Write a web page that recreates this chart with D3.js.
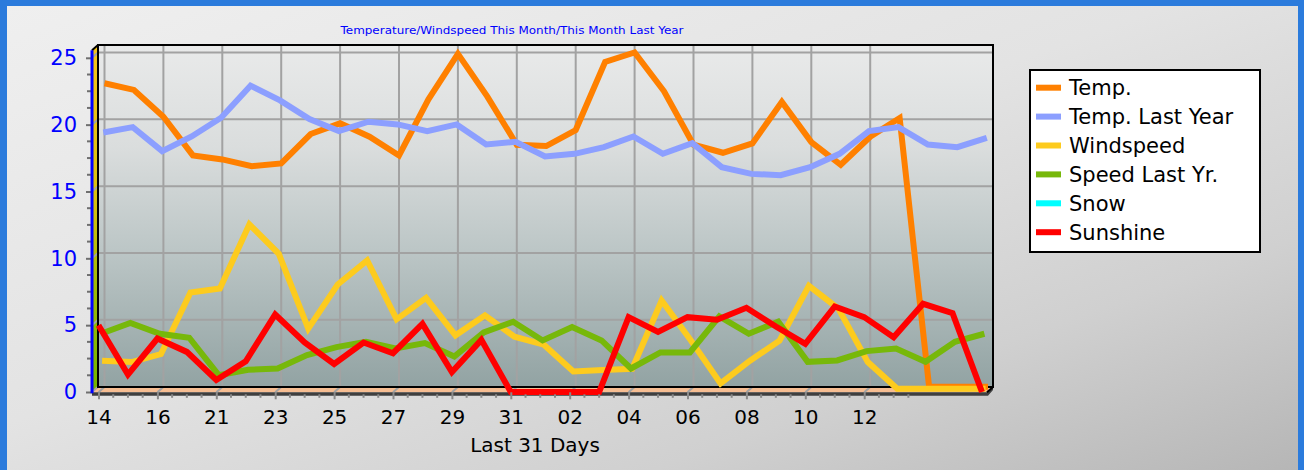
<!DOCTYPE html>
<html><head><meta charset="utf-8">
<script src="https://cdn.jsdelivr.net/npm/d3@7"></script>
<style>body{margin:0;overflow:hidden;background:#2b7bdc}</style>
</head><body><svg id="c" width="1304" height="470"></svg>
<script>
// ---------- data ----------
const days = ["14","15","16","20","21","22","23","24","25","26","27","28","29","30","31","01","02","03","04","05","06","07","08","09","10","11","12","","","",""];
const temp   = [22.7,22.2,20.2,17.3,17.0,16.5,16.7,18.9,19.7,18.7,17.3,21.5,24.9,21.7,18.1,18.0,19.2,24.3,25.0,22.1,18.1,17.5,18.2,21.3,18.3,16.6,18.7,20.1,0,0,0];
const tempLY = [19.1,19.5,17.7,18.8,20.2,22.6,21.5,20.1,19.2,19.9,19.7,19.2,19.7,18.2,18.4,17.3,17.5,18.0,18.8,17.5,18.3,16.5,16.0,15.9,16.5,17.5,19.2,19.5,18.2,18.0,18.7];
const wind   = [2.1,2.0,2.6,7.2,7.5,12.3,10.1,4.5,7.8,9.6,5.2,6.8,4.0,5.5,3.9,3.3,1.3,1.4,1.5,6.6,3.6,0.4,2.1,3.6,7.7,6.0,2.0,0,0,0,0];
const windLY = [4.2,5.0,4.2,3.9,1.1,1.5,1.6,2.6,3.2,3.6,3.1,3.5,2.5,4.3,5.1,3.7,4.7,3.7,1.6,2.8,2.8,5.5,4.2,5.1,2.1,2.2,2.9,3.1,2.1,3.6,4.2];
const snow   = [];
const sun    = [5.0,1.3,4.0,3.0,0.9,2.3,5.8,3.7,2.1,3.7,2.9,5.1,1.5,3.9,0,0,0,0,5.6,4.5,5.6,5.4,6.3,4.9,3.6,6.4,5.6,4.1,6.6,5.9,0];
const yTicks = [0,5,10,15,20,25];
const seriesNames  = ["Temp.","Temp. Last Year","Windspeed","Speed Last Yr.","Snow","Sunshine"];
const seriesColors = ["#ff8000","#8c9fff","#fdcb1e","#77b80a","#00ffff","#ff0000"];
const seriesData   = [temp,tempLY,wind,windLY,snow,sun];
const titleText = "Temperature/Windspeed This Month/This Month Last Year";
const xTitle = "Last 31 Days";

// ---------- layout ----------
const svg = d3.select("#c");
const W = 1304, H = 470;
const DX = -6, DY = 5.3;            // 3D depth offset (back -> front)
const BL = 98, BR = 993, BT = 45, BB = 387;   // back wall

const x = d3.scalePoint().domain(d3.range(days.length)).range([104.5, 988]);
const y = d3.scaleLinear().domain([0, 25]).range([386.7, 52.5]);
const xF = d3.scalePoint().domain(x.domain()).range(x.range().map(v => v + DX));
const yF = d3.scaleLinear().domain(y.domain()).range(y.range().map(v => v + DY));

const defs = svg.append("defs");
const bg = defs.append("linearGradient").attr("id","bg").attr("x1",0).attr("y1",0).attr("x2",1).attr("y2",1);
[[0,"#efefef"],[0.45,"#e3e3e3"],[0.75,"#d0d0d0"],[1,"#b6b6b6"]].forEach(s=>bg.append("stop").attr("offset",s[0]).attr("stop-color",s[1]));
const wall = defs.append("linearGradient").attr("id","wall").attr("x1",0).attr("y1",0).attr("x2",0).attr("y2",1);
[[0,"#e9eaea"],[0.3,"#dadddd"],[0.6,"#bcc6c6"],[1,"#92a3a3"]].forEach(s=>wall.append("stop").attr("offset",s[0]).attr("stop-color",s[1]));
const lw = defs.append("linearGradient").attr("id","lw").attr("x1",0).attr("y1",0).attr("x2",0).attr("y2",1);
[[0,"#f6c51a"],[0.45,"#d8c010"],[0.7,"#9fba05"],[1,"#72b400"]].forEach(s=>lw.append("stop").attr("offset",s[0]).attr("stop-color",s[1]));

// window frame + background
svg.append("rect").attr("width",W).attr("height",H).attr("fill","#2b7bdc");
svg.append("rect").attr("x",7).attr("y",6).attr("width",W-13).attr("height",H-6).attr("fill","url(#bg)");

// back wall
svg.append("rect").attr("x",BL).attr("y",BT).attr("width",BR-BL).attr("height",BB-BT).attr("fill","url(#wall)");
// left wall
svg.append("polygon").attr("points",[[BL,BT],[BL+DX,BT+DY],[BL+DX,BB+DY],[BL,BB]].join(" ")).attr("fill","url(#lw)");
// floor
svg.append("polygon").attr("points",[[BL,BB],[BR,BB],[BR+DX,BB+DY],[BL+DX,BB+DY]].join(" ")).attr("fill","#f6bd92");
// floor front face
svg.append("polygon").attr("points",[[BL+DX,BB+DY],[BR+DX,BB+DY],[BR,BB],[BR,BB+3],[BR+DX+1,BB+DY+3.5],[BL+DX,BB+DY+3.5]].join(" ")).attr("fill","#3f3f3f");

const tickIdx = x.domain().filter(i => i % 2 === 0 && days[i] !== "");
const grid = svg.append("g").attr("stroke","#a2a2a2").attr("stroke-width",2).attr("fill","none");
yTicks.forEach(v => {
  grid.append("line").attr("x1",BL).attr("x2",BR).attr("y1",y(v)).attr("y2",y(v));
  grid.append("line").attr("x1",BL).attr("x2",BL+DX).attr("y1",y(v)).attr("y2",yF(v));
});
tickIdx.forEach(i => {
  grid.append("line").attr("x1",x(i)).attr("x2",x(i)).attr("y1",BT).attr("y2",BB);
  grid.append("line").attr("x1",x(i)).attr("x2",xF(i)).attr("y1",BB).attr("y2",BB+DY);
});

// frame
const fr = svg.append("g").attr("stroke","#000").attr("stroke-width",2).attr("fill","none");
fr.append("rect").attr("x",BL).attr("y",BT).attr("width",BR-BL).attr("height",BB-BT);
fr.append("line").attr("x1",BL).attr("y1",BT).attr("x2",BL+DX).attr("y2",BT+DY);
fr.append("line").attr("x1",BR).attr("y1",BB).attr("x2",BR+DX).attr("y2",BB+DY);

// series lines (each at its own depth)
const nS = seriesData.length - 1;
seriesData.forEach((data, k) => {
  if (!data.length) return;
  const ox = DX * k / nS, oy = DY * k / nS;
  const line = d3.line().defined(d => d != null).x((d,i) => x(i) + ox).y(d => y(d) + oy);
  svg.append("path").datum(data).attr("d", line).attr("fill","none")
    .attr("stroke", seriesColors[k]).attr("stroke-width",6).attr("stroke-linejoin","miter").attr("stroke-miterlimit",3);
});

// y axis (front)
const yAx = svg.append("g").attr("transform",`translate(${BL+DX},0)`)
  .call(d3.axisLeft(yF).tickValues(yTicks).tickSize(6).tickPadding(9).tickFormat(d3.format("d")));
yAx.select(".domain").remove();
yAx.selectAll(".tick line").attr("stroke","#6f6f6f").attr("stroke-width",2);
yAx.selectAll("text").attr("fill","#0000ff").style("font-family","'DejaVu Sans', Verdana, sans-serif").style("font-size","21px");
const minorY = [];
for (let v = 0; v < 25; v += 5) [1.25,2.5,3.75].forEach(m => minorY.push(v + m));
svg.append("g").selectAll("line").data(minorY).join("line")
  .attr("x1",BL+DX-5).attr("x2",BL+DX).attr("y1",d=>yF(d)).attr("y2",d=>yF(d))
  .attr("stroke","#6f6f6f").attr("stroke-width",2);
svg.append("line").attr("x1",BL+DX).attr("x2",BL+DX).attr("y1",BT+DY).attr("y2",BB+DY+1)
  .attr("stroke","#0000ff").attr("stroke-width",3);

// x axis (front)
const xAx = svg.append("g").attr("transform",`translate(0,${BB+DY})`)
  .call(d3.axisBottom(xF).tickValues(tickIdx).tickSize(7).tickPadding(11).tickFormat(i => days[i]));
xAx.select(".domain").remove();
xAx.selectAll(".tick line").attr("stroke","#8a8a8a").attr("stroke-width",2);
xAx.selectAll("text").attr("fill","#000").style("font-family","'DejaVu Sans', Verdana, sans-serif").style("font-size","20px");
const step = x.step();
const minorX = [];
tickIdx.forEach(i => [0.5,1,1.5].forEach(m => minorX.push(xF(i) + m*step)));
svg.append("g").selectAll("line").data(minorX).join("line")
  .attr("x1",d=>d).attr("x2",d=>d).attr("y1",BB+DY+2).attr("y2",BB+DY+5.5)
  .attr("stroke","#8a8a8a").attr("stroke-width",2);

svg.append("text").attr("x",535).attr("y",452).attr("text-anchor","middle")
  .style("font-family","'DejaVu Sans', Verdana, sans-serif").style("font-size","20px").attr("fill","#000").text(xTitle);

// title
svg.append("text").attr("x",512).attr("y",34).attr("text-anchor","middle")
  .attr("textLength",343).attr("lengthAdjust","spacingAndGlyphs")
  .style("font-family","'DejaVu Sans', Verdana, sans-serif").style("font-size","11px").attr("fill","#0000ff").text(titleText);

// legend
const lg = svg.append("g");
lg.append("rect").attr("x",1030).attr("y",70).attr("width",230).attr("height",182)
  .attr("fill","#fff").attr("stroke","#000").attr("stroke-width",2);
seriesNames.forEach((n, k) => {
  const cy = 87.7 + k * 28.9;
  lg.append("rect").attr("x",1036).attr("y",cy-3).attr("width",25).attr("height",6).attr("fill",seriesColors[k]);
  lg.append("text").attr("x",1069).attr("y",cy+7.4).attr("fill","#000")
    .style("font-family","'DejaVu Sans', Verdana, sans-serif").style("font-size","21px").text(n);
});
</script></body></html>
